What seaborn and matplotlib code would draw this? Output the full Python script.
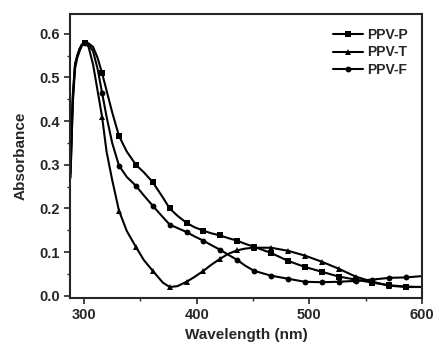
import matplotlib
matplotlib.use("Agg")
import matplotlib.pyplot as plt
import seaborn as sns
import pandas as pd
from matplotlib.ticker import MultipleLocator

wavelength = [288, 290, 292, 294, 296, 298, 301, 304, 308, 312, 316, 320, 325, 331,
              338, 346, 353, 361, 370, 376, 383, 391, 398, 406, 413, 421, 428, 436,
              443, 451, 466, 481, 496, 511, 526, 541, 556, 571, 586, 600]
ppv_p = [0.28, 0.44, 0.52, 0.545, 0.56, 0.572, 0.58, 0.578, 0.57, 0.545, 0.51, 0.47,
         0.42, 0.366, 0.33, 0.30, 0.283, 0.26, 0.225, 0.20, 0.183, 0.167, 0.157,
         0.149, 0.143, 0.138, 0.132, 0.126, 0.119, 0.112, 0.098, 0.08, 0.066,
         0.055, 0.044, 0.037, 0.03, 0.024, 0.021, 0.02]
ppv_t = [0.27, 0.45, 0.53, 0.55, 0.565, 0.575, 0.58, 0.57, 0.53, 0.47, 0.41, 0.33,
         0.265, 0.195, 0.148, 0.112, 0.082, 0.057, 0.03, 0.02, 0.022, 0.032, 0.043,
         0.057, 0.071, 0.085, 0.096, 0.104, 0.108, 0.11, 0.11, 0.103, 0.092, 0.078,
         0.062, 0.044, 0.032, 0.023, 0.02, 0.02]
ppv_f = [0.30, 0.46, 0.53, 0.55, 0.565, 0.575, 0.58, 0.576, 0.56, 0.52, 0.465, 0.41,
         0.35, 0.298, 0.272, 0.252, 0.23, 0.206, 0.18, 0.163, 0.155, 0.146, 0.136,
         0.126, 0.116, 0.105, 0.094, 0.082, 0.069, 0.057, 0.046, 0.039, 0.032,
         0.031, 0.032, 0.034, 0.037, 0.041, 0.042, 0.045]
series_names = ["PPV-P", "PPV-T", "PPV-F"]
marker_wavelengths = [301, 316, 331, 346, 361, 376, 391, 406, 421, 436, 451, 466,
                      481, 496, 511, 526, 541, 556, 571, 586]

frames = []
for name, vals in zip(series_names, [ppv_p, ppv_t, ppv_f]):
    frames.append(pd.DataFrame({"Wavelength": wavelength, "Absorbance": vals, "Sample": name}))
df = pd.concat(frames, ignore_index=True)

sns.set_style("ticks")
plt.rcParams["font.family"] = ["Liberation Sans", "DejaVu Sans"]
plt.rcParams["font.weight"] = "bold"

fig = plt.figure(figsize=(4.4, 3.53), dpi=100)
ax = fig.add_axes([0.159, 0.156, 0.800, 0.804])

mark_idx = [wavelength.index(w) for w in marker_wavelengths]
sns.lineplot(data=df, x="Wavelength", y="Absorbance", hue="Sample", style="Sample",
             palette=["black"] * 3, markers={"PPV-P": "s", "PPV-T": "^", "PPV-F": "o"},
             dashes=False, markersize=4.2, linewidth=1.5, markeredgewidth=0,
             markevery=mark_idx, ax=ax, sort=True)

ax.set_xlim(287.5, 600)
ax.set_ylim(-0.005, 0.645)
ax.xaxis.set_major_locator(MultipleLocator(100))
ax.xaxis.set_minor_locator(MultipleLocator(50))
ax.yaxis.set_major_locator(MultipleLocator(0.1))
ax.yaxis.set_minor_locator(MultipleLocator(0.05))
ax.tick_params(which="major", direction="out", length=4, width=1.2, labelsize=10.5)
ax.tick_params(which="minor", direction="out", length=2.5, width=1.0)
for lab in ax.get_xticklabels() + ax.get_yticklabels():
    lab.set_fontweight("bold")
for s in ax.spines.values():
    s.set_linewidth(1.5)
    s.set_visible(True)
ax.set_xlabel("Wavelength (nm)", fontsize=11, fontweight="bold")
ax.set_ylabel("Absorbance", fontsize=11, fontweight="bold", labelpad=8)

leg = ax.legend(loc="upper right", frameon=False, fontsize=10, handlelength=2.2,
                handletextpad=0.3, labelspacing=0.25, borderaxespad=0.6,
                markerscale=1.0)
for t in leg.get_texts():
    t.set_fontweight("bold")

fig.savefig("out.png", dpi=100)
